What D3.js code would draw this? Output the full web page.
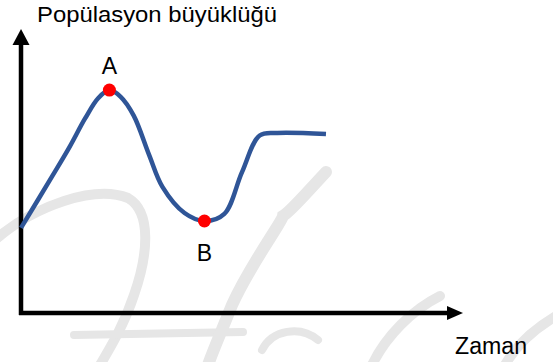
<!DOCTYPE html>
<html>
<head>
<meta charset="utf-8">
<script src="https://cdn.jsdelivr.net/npm/d3@7"></script>
<style>
  body { margin: 0; background: #fff; }
  svg { display: block; }
  text { font-family: Arial, "Liberation Sans", sans-serif; fill: #000; }
</style>
</head>
<body>
<svg id="chart" width="553" height="362"></svg>
<script>
// zaman (time) and population, arbitrary units 0..100
var times = [0, 7, 11, 14.5, 17.5, 20, 22.5, 25.5, 29, 32, 37, 41.5, 46, 50, 54, 58, 69]
var population = [30, 48, 58.5, 68.5, 75.7, 78.5, 76.2, 69.5, 55.6, 44.4, 35.2, 32.4, 34.9, 49.6, 62.5, 63.4, 63]
var markedPoints = [{ label: "A", index: 5, pos: "above" }, { label: "B", index: 11, pos: "below" }]
var yTitle = "Popülasyon büyüklüğü"
var xTitle = "Zaman"

var svg = d3.select("#chart")

// background watermark strokes
var wm = svg.append("g")
    .attr("fill", "none")
    .attr("stroke", "#e6e6e6")
    .attr("stroke-linecap", "round")
var wmPaths = [
    ["M-5,240 C35,205 95,185 128,198 C152,212 148,255 134,295 C124,325 110,348 100,365", 10],
    ["M74,335 L243,332", 8],
    ["M326,172 C300,200 290,212 283,216 C282,222 250,265 232,305 C222,330 214,348 208,365", 12],
    ["M262,350 C272,330 300,325 318,340", 8],
    ["M440,296 C412,310 386,336 372,365", 10],
    ["M556,316 C536,328 516,345 505,365", 10]
]
wmPaths.forEach(function (p) {
    wm.append("path").attr("d", p[0]).attr("stroke-width", p[1])
})

var x = d3.scaleLinear().domain([0, 100]).range([21, 463])
var y = d3.scaleLinear().domain([0, 100]).range([313, 29])

// axes with arrowheads
var axisColor = "#000"
svg.append("line")
    .attr("x1", x(0) - 2).attr("x2", x(100) - 14)
    .attr("y1", y(0)).attr("y2", y(0))
    .attr("stroke", axisColor).attr("stroke-width", 4.5)
svg.append("line")
    .attr("x1", x(0)).attr("x2", x(0))
    .attr("y1", y(0) + 2).attr("y2", y(100) + 14)
    .attr("stroke", axisColor).attr("stroke-width", 4.5)
svg.append("path")
    .attr("d", `M${x(100)},${y(0)} L${x(100) - 16},${y(0) - 7} L${x(100) - 16},${y(0) + 7} Z`)
    .attr("fill", axisColor)
svg.append("path")
    .attr("d", `M${x(0)},${y(100)} L${x(0) - 8.5},${y(100) + 16} L${x(0) + 8.5},${y(100) + 16} Z`)
    .attr("fill", axisColor)

svg.append("text")
    .attr("x", 37).attr("y", 22)
    .attr("font-size", 22)
    .attr("textLength", 240).attr("lengthAdjust", "spacingAndGlyphs")
    .text(yTitle)
svg.append("text")
    .attr("x", 455).attr("y", 354)
    .attr("font-size", 23)
    .attr("textLength", 72).attr("lengthAdjust", "spacingAndGlyphs")
    .text(xTitle)

var data = times.map(function (t, i) { return { t: t, v: population[i] } })

var line = d3.line()
    .x(d => x(d.t))
    .y(d => y(d.v))
    .curve(d3.curveCatmullRom.alpha(0.5))

svg.append("path")
    .datum(data)
    .attr("d", line)
    .attr("fill", "none")
    .attr("stroke", "#2f5597")
    .attr("stroke-width", 4.5)
    .attr("stroke-linejoin", "round")

svg.selectAll("circle.mark")
    .data(markedPoints)
    .join("circle")
    .attr("class", "mark")
    .attr("cx", d => x(times[d.index]))
    .attr("cy", d => y(population[d.index]))
    .attr("r", 6.5)
    .attr("fill", "#ff0000")

svg.selectAll("text.mark")
    .data(markedPoints)
    .join("text")
    .attr("class", "mark")
    .attr("x", d => x(times[d.index]))
    .attr("y", d => d.pos == "above" ? y(population[d.index]) - 16 : y(population[d.index]) + 40)
    .attr("text-anchor", "middle")
    .attr("font-size", 23)
    .text(d => d.label)
</script>
</body>
</html>
